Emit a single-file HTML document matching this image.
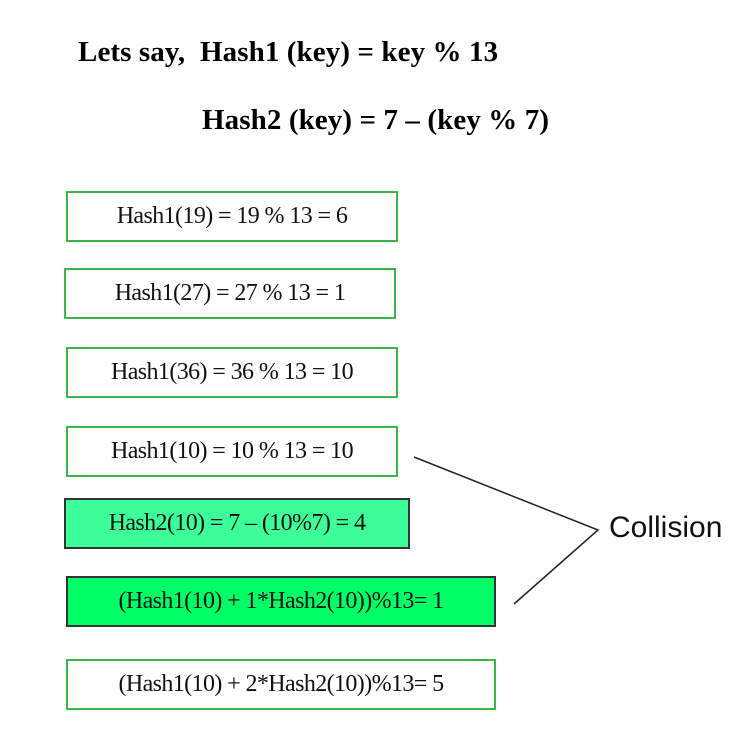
<!DOCTYPE html>
<html><head><meta charset="utf-8"><style>
body{margin:0;width:755px;height:754px;background:#fff;position:relative;overflow:hidden;font-family:"Liberation Serif",serif}
.t{position:absolute;font-weight:bold;font-size:29px;letter-spacing:0.1px;color:#000;white-space:pre;font-family:"Liberation Serif",serif;line-height:1}
.b{position:absolute;box-sizing:border-box;border:2px solid #3cb54a;background:#fff;display:flex;align-items:center;justify-content:center;font-size:24px;letter-spacing:-0.6px;color:#111;height:51px}
</style></head><body>
<div class="t" style="left:78px;top:38px">Lets say,  Hash1 (key) = key % 13</div>
<div class="t" style="left:202px;top:106px">Hash2 (key) = 7 – (key % 7)</div>
<div class="b" style="left:66px;top:191px;width:332px">Hash1(19) = 19 % 13 = 6</div>
<div class="b" style="left:64px;top:268px;width:332px">Hash1(27) = 27 % 13 = 1</div>
<div class="b" style="left:66px;top:347px;width:332px">Hash1(36) = 36 % 13 = 10</div>
<div class="b" style="left:66px;top:426px;width:332px">Hash1(10) = 10 % 13 = 10</div>
<div class="b" style="left:64px;top:498px;width:346px;background:#3dff99;border-color:#333">Hash2(10) = 7 – (10%7) = 4</div>
<div class="b" style="left:66px;top:576px;width:430px;background:#00ff66;border-color:#333">(Hash1(10) + 1*Hash2(10))%13= 1</div>
<div class="b" style="left:66px;top:659px;width:430px">(Hash1(10) + 2*Hash2(10))%13= 5</div>
<svg width="755" height="754" style="position:absolute;left:0;top:0">
<polyline points="414,457 598,530 514,604" fill="none" stroke="#222" stroke-width="1.5"/>
</svg>
<div style="position:absolute;left:609px;top:511px;font-family:'Liberation Sans',sans-serif;font-size:30px;color:#111">Collision</div>
</body></html>
